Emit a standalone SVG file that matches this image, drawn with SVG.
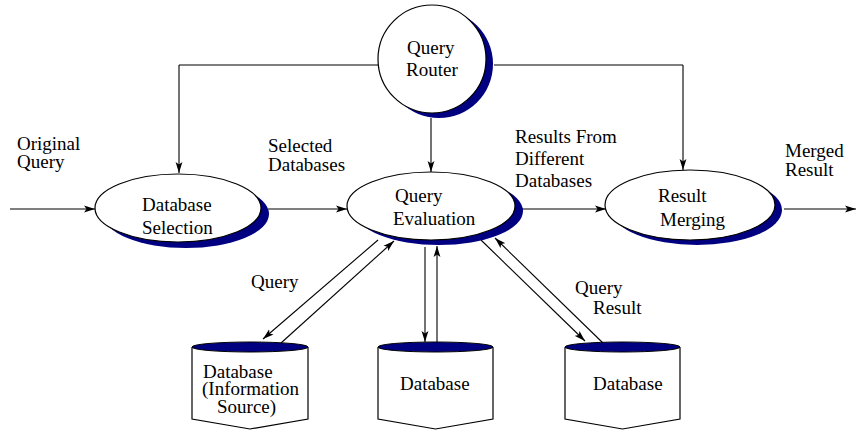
<svg xmlns="http://www.w3.org/2000/svg" width="856" height="431" viewBox="0 0 856 431">
  <style>
    text { font-family: "Liberation Serif", "Times New Roman", serif; font-size: 19px; fill: #000; }
    .shadow { fill: #000080; stroke: none; }
    .face { fill: #fff; stroke: #000; stroke-width: 1.2; }
    .edge { fill: none; stroke: #000; stroke-width: 1.1; }
    .arrow { marker-end: url(#head); }
  </style>
  <defs>
    <marker id="head" markerUnits="userSpaceOnUse" markerWidth="12" markerHeight="8" refX="11" refY="4" orient="auto">
      <path d="M0,0.6 L11,4 L0,7.4 L2.5,4 Z" fill="#000"/>
    </marker>
  </defs>

  <!-- connectors -->
  <g id="connectors">
    <!-- router control lines -->
    <polyline class="edge" points="378,65 179,65"/>
    <line class="edge arrow" x1="179" y1="65" x2="179" y2="173"/>
    <polyline class="edge" points="494,65 683,65"/>
    <line class="edge arrow" x1="683" y1="65" x2="683" y2="170"/>
    <line class="edge arrow" x1="431" y1="118" x2="431" y2="172"/>
    <!-- main flow -->
    <line class="edge arrow" x1="10" y1="209" x2="95" y2="209"/>
    <line class="edge arrow" x1="268" y1="209" x2="347" y2="209"/>
    <line class="edge arrow" x1="520" y1="209" x2="606" y2="209"/>
    <line class="edge arrow" x1="784" y1="209" x2="856" y2="209"/>
    <!-- evaluation to and from sources -->
    <line class="edge arrow" x1="378" y1="240" x2="263" y2="339"/>
    <line class="edge arrow" x1="281" y1="343" x2="394" y2="241"/>
    <line class="edge arrow" x1="425" y1="247" x2="425" y2="342"/>
    <line class="edge arrow" x1="437" y1="342" x2="437" y2="246"/>
    <line class="edge arrow" x1="481" y1="240" x2="585" y2="341"/>
    <line class="edge arrow" x1="604" y1="344" x2="495" y2="238"/>
  </g>

  <!-- Query Router -->
  <g id="query-router">
    <circle class="shadow" cx="439" cy="64" r="54"/>
    <circle class="face" cx="432" cy="59" r="54"/>
    <text x="407" y="54">Query</text>
    <text x="406" y="76">Router</text>
  </g>

  <!-- Database Selection -->
  <g id="database-selection">
    <ellipse class="shadow" cx="186" cy="214" rx="83" ry="34"/>
    <ellipse class="face" cx="178" cy="208" rx="83" ry="34"/>
    <text x="142" y="211">Database</text>
    <text x="142" y="234">Selection</text>
  </g>

  <!-- Query Evaluation -->
  <g id="query-evaluation">
    <ellipse class="shadow" cx="439" cy="211" rx="84" ry="34"/>
    <ellipse class="face" cx="431" cy="206" rx="84" ry="34"/>
    <text x="395" y="202">Query</text>
    <text x="393" y="225">Evaluation</text>
  </g>

  <!-- Result Merging -->
  <g id="result-merging">
    <ellipse class="shadow" cx="697" cy="210" rx="85" ry="35"/>
    <ellipse class="face" cx="690" cy="205" rx="85" ry="35"/>
    <text x="658" y="202">Result</text>
    <text x="660" y="226">Merging</text>
  </g>

  <!-- Data sources -->
  <g id="database-1">
    <path class="face" d="M192,347 L192,419 L250,429 L308,419 L308,347"/>
    <ellipse class="shadow" cx="250" cy="347" rx="58" ry="5" style="stroke:#000;stroke-width:1"/>
    <text x="203" y="378">Database</text>
    <text x="202" y="395">(Information</text>
    <text x="217" y="413">Source)</text>
  </g>
  <g id="database-2">
    <path class="face" d="M378,347 L378,419 L435.5,429 L493,419 L493,347"/>
    <ellipse class="shadow" cx="435.5" cy="347" rx="57.5" ry="5" style="stroke:#000;stroke-width:1"/>
    <text x="400" y="390">Database</text>
  </g>
  <g id="database-3">
    <path class="face" d="M565,347 L565,419 L622.5,429 L680,419 L680,347"/>
    <ellipse class="shadow" cx="622.5" cy="347" rx="57.5" ry="5" style="stroke:#000;stroke-width:1"/>
    <text x="593" y="390">Database</text>
  </g>

  <!-- edge labels -->
  <g id="labels">
    <text x="17" y="150">Original</text>
    <text x="17" y="168">Query</text>
    <text x="268" y="152">Selected</text>
    <text x="268" y="171">Databases</text>
    <text x="515" y="143">Results From</text>
    <text x="515" y="165">Different</text>
    <text x="515" y="187">Databases</text>
    <text x="785" y="157">Merged</text>
    <text x="785" y="176">Result</text>
    <text x="251" y="288">Query</text>
    <text x="575" y="294">Query</text>
    <text x="593" y="314">Result</text>
  </g>
</svg>
